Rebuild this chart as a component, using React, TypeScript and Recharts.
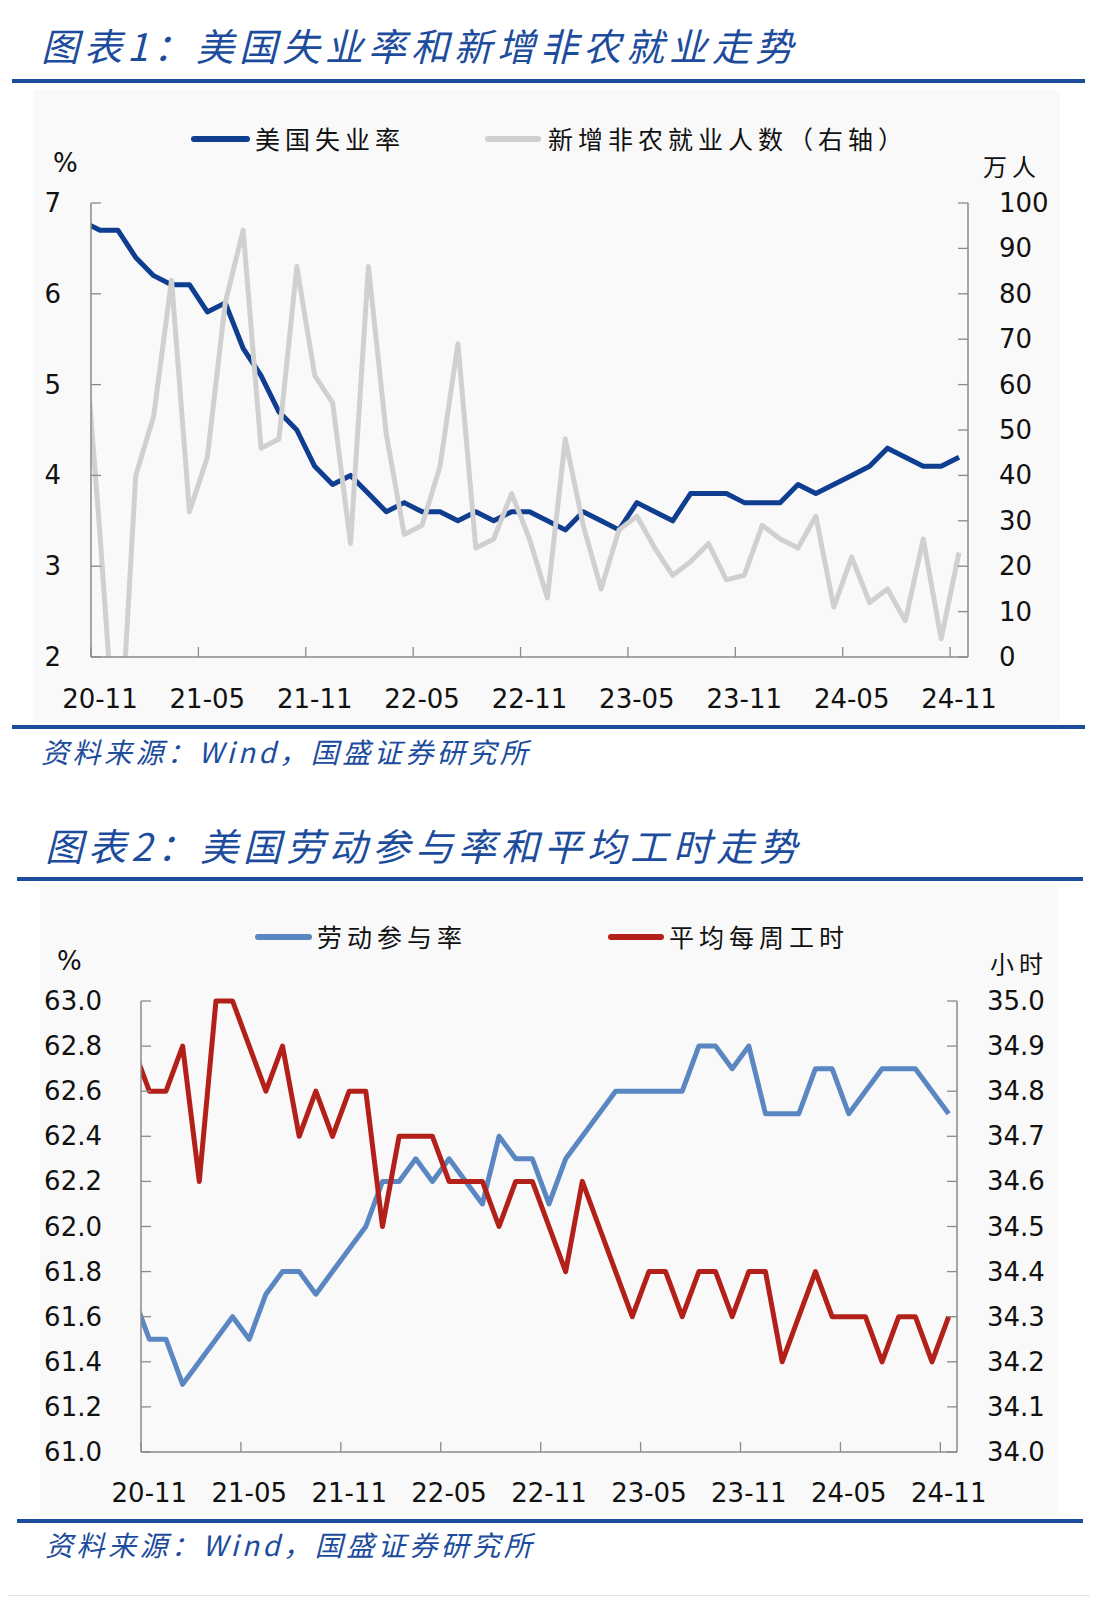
import { LineChart, Line, XAxis, YAxis } from 'recharts'

// months, 20-10 is only there so the lines run in from the left axis (clipped)
const months = [
  '20-10', '20-11', '20-12',
  '21-01', '21-02', '21-03', '21-04', '21-05', '21-06', '21-07', '21-08', '21-09', '21-10', '21-11', '21-12',
  '22-01', '22-02', '22-03', '22-04', '22-05', '22-06', '22-07', '22-08', '22-09', '22-10', '22-11', '22-12',
  '23-01', '23-02', '23-03', '23-04', '23-05', '23-06', '23-07', '23-08', '23-09', '23-10', '23-11', '23-12',
  '24-01', '24-02', '24-03', '24-04', '24-05', '24-06', '24-07', '24-08', '24-09', '24-10', '24-11',
]

// 图表1
const unemploymentRate = [
  6.8, 6.7, 6.7, 6.4, 6.2, 6.1, 6.1, 5.8, 5.9, 5.4, 5.1, 4.7, 4.5, 4.1, 3.9, 4.0, 3.8, 3.6, 3.7, 3.6,
  3.6, 3.5, 3.6, 3.5, 3.6, 3.6, 3.5, 3.4, 3.6, 3.5, 3.4, 3.7, 3.6, 3.5, 3.8, 3.8, 3.8, 3.7, 3.7, 3.7,
  3.9, 3.8, 3.9, 4.0, 4.1, 4.3, 4.2, 4.1, 4.1, 4.2,
]
const nonfarmPayrolls = [
  78, 27, -29, 40, 53, 83, 32, 44, 78, 94, 46, 48, 86, 62, 56, 25, 86, 49, 27, 29,
  42, 69, 24, 26, 36, 26, 13, 48, 29, 15, 28, 31, 24, 18, 21, 25, 17, 18, 29, 26,
  24, 31, 11, 22, 12, 15, 8, 26, 4, 23,
]
const rateTicks = [2, 3, 4, 5, 6, 7]
const payrollTicks = [0, 10, 20, 30, 40, 50, 60, 70, 80, 90, 100]

// 图表2
const participationRate = [
  61.7, 61.5, 61.5, 61.3, 61.4, 61.5, 61.6, 61.5, 61.7, 61.8, 61.8, 61.7, 61.8, 61.9, 62.0, 62.2, 62.2,
  62.3, 62.2, 62.3, 62.2, 62.1, 62.4, 62.3, 62.3, 62.1, 62.3, 62.4, 62.5, 62.6, 62.6, 62.6, 62.6, 62.6,
  62.8, 62.8, 62.7, 62.8, 62.5, 62.5, 62.5, 62.7, 62.7, 62.5, 62.6, 62.7, 62.7, 62.7, 62.6, 62.5,
]
const weeklyHours = [
  34.9, 34.8, 34.8, 34.9, 34.6, 35.0, 35.0, 34.9, 34.8, 34.9, 34.7, 34.8, 34.7, 34.8, 34.8, 34.5, 34.7,
  34.7, 34.7, 34.6, 34.6, 34.6, 34.5, 34.6, 34.6, 34.5, 34.4, 34.6, 34.5, 34.4, 34.3, 34.4, 34.4, 34.3,
  34.4, 34.4, 34.3, 34.4, 34.4, 34.2, 34.3, 34.4, 34.3, 34.3, 34.3, 34.2, 34.3, 34.3, 34.2, 34.3,
]
const participationTicks = [61.0, 61.2, 61.4, 61.6, 61.8, 62.0, 62.2, 62.4, 62.6, 62.8, 63.0]
const hoursTicks = [34.0, 34.1, 34.2, 34.3, 34.4, 34.5, 34.6, 34.7, 34.8, 34.9, 35.0]

// tick marks sit between months, every 6th boundary
const xTicks = [-0.5, 5.5, 11.5, 17.5, 23.5, 29.5, 35.5, 41.5, 47.5]

const jobsRows = months.map((m, k) => ({
  i: k - 1,
  month: m,
  rate: unemploymentRate[k],
  payrolls: nonfarmPayrolls[k],
}))
const laborRows = months.map((m, k) => ({
  i: k - 1,
  month: m,
  participation: participationRate[k],
  hours: weeklyHours[k],
}))

const BLUE = '#1d4c9c'
const AXIS = '#8a8a8a'
const NUM_FONT = '"DejaVu Sans", Verdana, sans-serif'
const CJK_FONT = '"Noto Sans CJK SC", sans-serif'

function makeXTick(halfBand: number, labelDy: number) {
  return (props: any) => {
    const { x, y, payload } = props
    const label = months[payload.value + 0.5 + 1]
    return (
      <g>
        <line x1={x} y1={y} x2={x} y2={y - 10} stroke={AXIS} strokeWidth={1.3} />
        <text
          x={x + halfBand}
          y={y + labelDy}
          textAnchor="middle"
          dominantBaseline="central"
          fontFamily={NUM_FONT}
          fontSize={26}
          fill="#111"
        >
          {label}
        </text>
      </g>
    )
  }
}

function makeYTick(side: 'left' | 'right', gap: number, digits: number) {
  return (props: any) => {
    const { x, y, payload } = props
    const dir = side === 'left' ? 1 : -1
    return (
      <g>
        <line x1={x} y1={y} x2={x + dir * 10} y2={y} stroke={AXIS} strokeWidth={1.3} />
        <text
          x={x - dir * gap}
          y={y}
          textAnchor={side === 'left' ? 'end' : 'start'}
          dominantBaseline="central"
          fontFamily={NUM_FONT}
          fontSize={26}
          fill="#111"
        >
          {Number(payload.value).toFixed(digits)}
        </text>
      </g>
    )
  }
}

function Txt({ x, cy, size, font = CJK_FONT, style, children }: any) {
  return (
    <div
      style={{
        position: 'absolute',
        left: x,
        top: cy - size / 2,
        fontSize: size,
        lineHeight: `${size}px`,
        fontFamily: font,
        whiteSpace: 'nowrap',
        color: '#111',
        ...style,
      }}
    >
      {children}
    </div>
  )
}

function Rule({ x, y, w, h = 4, color = BLUE }: any) {
  return <div style={{ position: 'absolute', left: x, top: y, width: w, height: h, background: color }} />
}

function LegendKey({ x, cy, w, color, label, textX }: any) {
  return (
    <>
      <div
        style={{
          position: 'absolute',
          left: x,
          top: cy - 3,
          width: w,
          height: 6,
          borderRadius: 3,
          background: color,
        }}
      />
      <Txt x={textX} cy={cy - 1} size={25} style={{ letterSpacing: 5 }}>
        {label}
      </Txt>
    </>
  )
}

const titleStyle = { color: BLUE, fontStyle: 'italic', letterSpacing: 5 }
const sourceStyle = { color: BLUE, fontStyle: 'italic', letterSpacing: 3.5 }

export default function App() {
  const axisLine = { stroke: AXIS, strokeWidth: 1.5 }

  return (
    <div
      style={{
        position: 'absolute',
        left: 0,
        top: 0,
        width: 1098,
        height: 1602,
        background: '#fff',
        overflow: 'hidden',
      }}
    >
      {/* ---------- 图表1 ---------- */}
      <Txt x={41} cy={45} size={38} style={titleStyle}>
        图表1：美国失业率和新增非农就业走势
      </Txt>
      <Rule x={12} y={79} w={1073} />
      <div style={{ position: 'absolute', left: 34, top: 90, width: 1026, height: 632, background: '#f9f9f9' }} />

      <LegendKey x={191} cy={139} w={59} color="#0f3d8f" textX={255} label="美国失业率" />
      <LegendKey x={485} cy={139} w={56} color="#d0d0d0" textX={548} label="新增非农就业人数（右轴）" />
      <Txt x={53} cy={163} size={26} font={NUM_FONT}>%</Txt>
      <Txt x={983} cy={166} size={24} style={{ letterSpacing: 5 }}>万人</Txt>

      <div style={{ position: 'absolute', left: 0, top: 150 }}>
        <LineChart
          width={1098}
          height={575}
          data={jobsRows}
          margin={{ top: 53, right: 50, bottom: 3, left: 31 }}
        >
          <XAxis
            dataKey="i"
            type="number"
            domain={[-0.5, 48.5]}
            allowDataOverflow
            ticks={xTicks}
            interval={0}
            height={65}
            tickSize={0}
            tickMargin={0}
            tickLine={false}
            axisLine={axisLine}
            tick={makeXTick(8.95, 42)}
          />
          <YAxis
            yAxisId="l"
            domain={[2, 7]}
            ticks={rateTicks}
            interval={0}
            width={60}
            tickSize={0}
            tickMargin={0}
            tickLine={false}
            axisLine={axisLine}
            tick={makeYTick('left', 30, 0)}
          />
          <YAxis
            yAxisId="r"
            orientation="right"
            domain={[0, 100]}
            allowDataOverflow
            ticks={payrollTicks}
            interval={0}
            width={80}
            tickSize={0}
            tickMargin={0}
            tickLine={false}
            axisLine={axisLine}
            tick={makeYTick('right', 31, 0)}
          />
          <Line
            yAxisId="l"
            dataKey="rate"
            type="linear"
            stroke="#0f3d8f"
            strokeWidth={5}
            strokeLinejoin="round"
            dot={false}
            activeDot={false}
            isAnimationActive={false}
          />
          <Line
            yAxisId="r"
            dataKey="payrolls"
            type="linear"
            stroke="#d0d0d0"
            strokeWidth={5}
            strokeLinejoin="round"
            dot={false}
            activeDot={false}
            isAnimationActive={false}
          />
        </LineChart>
      </div>

      <Rule x={12} y={725} w={1073} />
      <Txt x={41} cy={751} size={28} style={sourceStyle}>
        资料来源：Wind，国盛证券研究所
      </Txt>

      {/* ---------- 图表2 ---------- */}
      <Txt x={45} cy={845} size={38} style={titleStyle}>
        图表2：美国劳动参与率和平均工时走势
      </Txt>
      <Rule x={17} y={877} w={1066} />
      <div style={{ position: 'absolute', left: 40, top: 885, width: 1017, height: 630, background: '#f9f9f9' }} />

      <LegendKey x={255} cy={937} w={57} color="#5a87c1" textX={317} label="劳动参与率" />
      <LegendKey x={608} cy={937} w={56} color="#b3201a" textX={669} label="平均每周工时" />
      <Txt x={57} cy={961} size={26} font={NUM_FONT}>%</Txt>
      <Txt x={990} cy={963} size={24} style={{ letterSpacing: 5 }}>小时</Txt>

      <div style={{ position: 'absolute', left: 0, top: 950 }}>
        <LineChart
          width={1098}
          height={568}
          data={laborRows}
          margin={{ top: 51, right: 61, bottom: 3, left: 81 }}
        >
          <XAxis
            dataKey="i"
            type="number"
            domain={[-0.5, 48.5]}
            allowDataOverflow
            ticks={xTicks}
            interval={0}
            height={63}
            tickSize={0}
            tickMargin={0}
            tickLine={false}
            axisLine={axisLine}
            tick={makeXTick(8.33, 41)}
          />
          <YAxis
            yAxisId="l"
            domain={[61, 63]}
            ticks={participationTicks}
            interval={0}
            width={60}
            tickSize={0}
            tickMargin={0}
            tickLine={false}
            axisLine={axisLine}
            tick={makeYTick('left', 39, 1)}
          />
          <YAxis
            yAxisId="r"
            orientation="right"
            domain={[34, 35]}
            ticks={hoursTicks}
            interval={0}
            width={80}
            tickSize={0}
            tickMargin={0}
            tickLine={false}
            axisLine={axisLine}
            tick={makeYTick('right', 30, 1)}
          />
          <Line
            yAxisId="l"
            dataKey="participation"
            type="linear"
            stroke="#5a87c1"
            strokeWidth={5}
            strokeLinejoin="round"
            dot={false}
            activeDot={false}
            isAnimationActive={false}
          />
          <Line
            yAxisId="r"
            dataKey="hours"
            type="linear"
            stroke="#b3201a"
            strokeWidth={5}
            strokeLinejoin="round"
            dot={false}
            activeDot={false}
            isAnimationActive={false}
          />
        </LineChart>
      </div>

      <Rule x={17} y={1519} w={1066} />
      <Txt x={45} cy={1544} size={28} style={sourceStyle}>
        资料来源：Wind，国盛证券研究所
      </Txt>
      <Rule x={8} y={1595} w={1082} h={1} color="#e2e2e2" />
    </div>
  )
}
